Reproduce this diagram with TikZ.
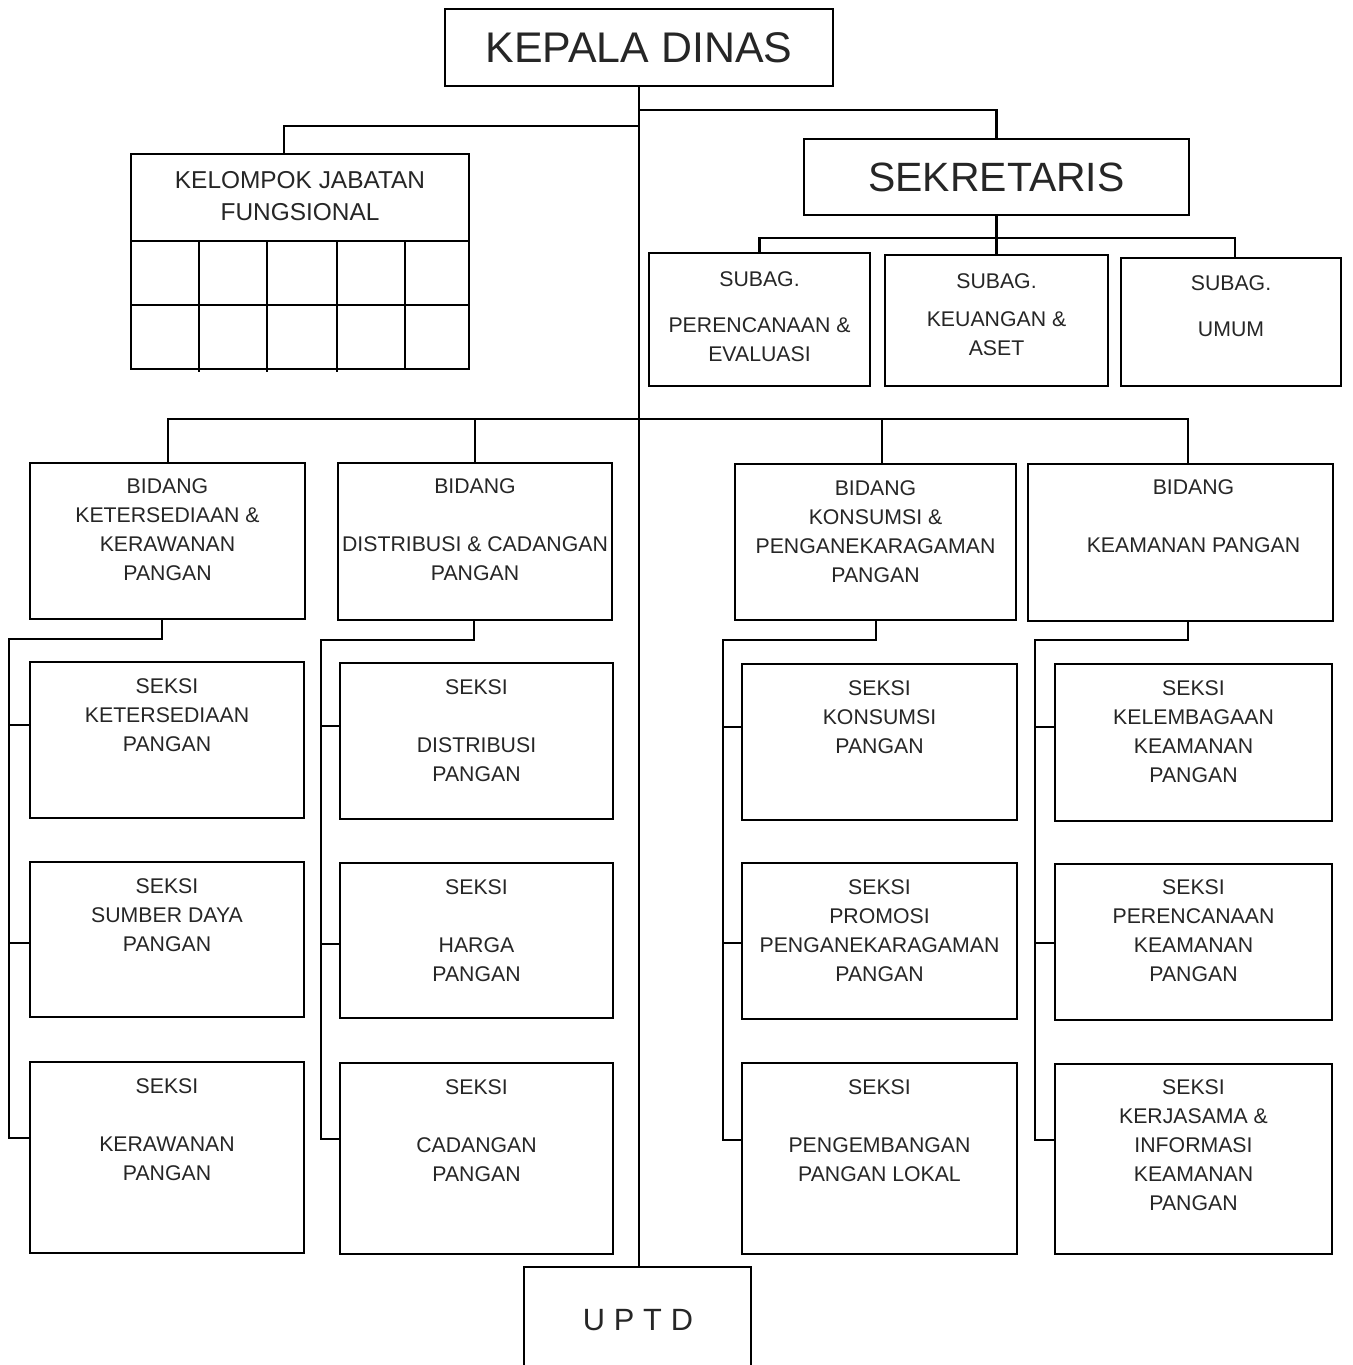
\documentclass[tikz,border=0pt]{standalone}
\usepackage{fontspec}
\setmainfont{Liberation Sans}
\usetikzlibrary{fit,calc}
\begin{document}
\begin{tikzpicture}[x=0.02cm,y=-0.02cm,line width=1.2pt,
  box/.style={draw=black,rectangle,inner sep=0pt,outer sep=0pt},
  txt/.style={inner sep=0pt,outer sep=0pt,align=center,anchor=north,text=black!85,font=\fontsize{12.1}{16.5}\selectfont},
  bigtxt/.style={text=black!85,font=\fontsize{24.4}{28}\selectfont},
  conn/.style={draw=black,line width=1.2pt}]
\clip (0,0) rectangle (1352,1365);
\fill[white] (0,0) rectangle (1352,1365);

% ---------- top ----------
\node[box,bigtxt,minimum width=7.76cm,minimum height=1.54cm] (kd) at (639,47.5) {KEPALA DINAS};
\node[box,bigtxt,font=\fontsize{23.3}{28}\selectfont,minimum width=7.7cm,minimum height=1.52cm] (sek) at (996.5,177) {SEKRETARIS};

% ---------- kelompok jabatan fungsional ----------
\node[box,fit={(131,154) (469,369)}] (kjf) {};
\node[txt,font=\fontsize{13.9}{18.2}\selectfont] (kjft) at ($(kjf.north)+(0,17.5)$) {KELOMPOK JABATAN\\FUNGSIONAL};
\draw (131,241) -- (469,241);
\draw (131,305) -- (469,305);
\foreach \gx in {199,267,337} {\draw (\gx,241) -- (\gx,372);}
\draw (405,241) -- (405,369);

% ---------- subag ----------
\node[box,fit={(649,253) (870,386)}] (sub1) {};
\node[box,fit={(885,255) (1108,386)}] (sub2) {};
\node[box,fit={(1121,258) (1341,386)}] (sub3) {};
\node[txt] (sub1t) at ($(sub1.north)+(0,18.5)$) {SUBAG.\\[9.7pt]PERENCANAAN \&\\EVALUASI};
\node[txt] (sub2t) at ($(sub2.north)+(0,18.5)$) {SUBAG.\\[5.1pt]KEUANGAN \&\\ASET};
\node[txt] (sub3t) at ($(sub3.north)+(0,17.5)$) {SUBAG.\\[9.7pt]UMUM};

% ---------- bidang ----------
\node[box,fit={(30,463) (305,619)}] (b1) {};
\node[box,fit={(338,463) (612,620)}] (b2) {};
\node[box,fit={(735,464) (1016,620)}] (b3) {};
\node[box,fit={(1028,464) (1333,621)}] (b4) {};
\node[txt] (b1t) at ($(b1.north)+(0,16)$) {BIDANG\\KETERSEDIAAN \&\\KERAWANAN\\PANGAN};
\node[txt] (b2t) at ($(b2.north)+(0,15.5)$) {BIDANG\\[16.5pt]DISTRIBUSI \& CADANGAN\\PANGAN};
\node[txt] (b3t) at ($(b3.north)+(0,16.5)$) {BIDANG\\KONSUMSI \&\\PENGANEKARAGAMAN\\PANGAN};
\node[txt] (b4t) at ($(b4.north)+(13,15.5)$) {BIDANG\\[16.5pt]KEAMANAN PANGAN};

% ---------- seksi ----------
\node[box,fit={(30,662) (304,818)}] (s11) {};
\node[box,fit={(30,862) (304,1017)}] (s12) {};
\node[box,fit={(30,1062) (304,1253)}] (s13) {};
\node[box,fit={(340,663) (613,819)}] (s21) {};
\node[box,fit={(340,863) (613,1018)}] (s22) {};
\node[box,fit={(340,1063) (613,1254)}] (s23) {};
\node[box,fit={(742,664) (1017,820)}] (s31) {};
\node[box,fit={(742,863) (1017,1019)}] (s32) {};
\node[box,fit={(742,1063) (1017,1254)}] (s33) {};
\node[box,fit={(1055,664) (1332,821)}] (s41) {};
\node[box,fit={(1055,864) (1332,1020)}] (s42) {};
\node[box,fit={(1055,1064) (1332,1254)}] (s43) {};

\node[txt] (s11t) at ($(s11.north)+(0,16.5)$) {SEKSI\\KETERSEDIAAN\\PANGAN};
\node[txt] (s12t) at ($(s12.north)+(0,16.5)$) {SEKSI\\SUMBER DAYA\\PANGAN};
\node[txt] (s13t) at ($(s13.north)+(0,16.5)$) {SEKSI\\[16.5pt]KERAWANAN\\PANGAN};
\node[txt] (s21t) at ($(s21.north)+(0,16.5)$) {SEKSI\\[16.5pt]DISTRIBUSI\\PANGAN};
\node[txt] (s22t) at ($(s22.north)+(0,16.5)$) {SEKSI\\[16.5pt]HARGA\\PANGAN};
\node[txt] (s23t) at ($(s23.north)+(0,16.5)$) {SEKSI\\[16.5pt]CADANGAN\\PANGAN};
\node[txt] (s31t) at ($(s31.north)+(0,16.5)$) {SEKSI\\KONSUMSI\\PANGAN};
\node[txt] (s32t) at ($(s32.north)+(0,16.5)$) {SEKSI\\PROMOSI\\PENGANEKARAGAMAN\\PANGAN};
\node[txt] (s33t) at ($(s33.north)+(0,16.5)$) {SEKSI\\[16.5pt]PENGEMBANGAN\\PANGAN LOKAL};
\node[txt] (s41t) at ($(s41.north)+(0,16.5)$) {SEKSI\\KELEMBAGAAN\\KEAMANAN\\PANGAN};
\node[txt] (s42t) at ($(s42.north)+(0,15.5)$) {SEKSI\\PERENCANAAN\\KEAMANAN\\PANGAN};
\node[txt] (s43t) at ($(s43.north)+(0,15.5)$) {SEKSI\\KERJASAMA \&\\INFORMASI\\KEAMANAN\\PANGAN};

% ---------- UPTD ----------
\node[box,fit={(524,1267) (751,1420)}] (uptd) {};
\node[txt,anchor=center,font=\fontsize{17.5}{20}\selectfont] (uptdt) at ($(uptd.north)+(0.5,53)$) {U\hspace{5pt}P\hspace{5pt}T\hspace{5pt}D};

% ---------- connectors ----------
\coordinate (jl) at (639,126);
\coordinate (jr) at (639,110);
\coordinate (jb) at (639,419);
\coordinate (sj) at (996.5,238);
\draw[conn] (kd.south) -- (kd.south |- uptd.north);
\draw[conn] (jl) -| ($(kjf.north)+(-16,0)$);
\draw[conn] (jr) -| (sek.north);
\draw[conn] (sek.south) -- (sub2.north);
\draw[conn] (sub1.north) |- (sj) -| ($(sub3.north)+(4,0)$);
\draw[conn] ($(b1.north)+(0.5,0)$) |- (jb) -| ($(b4.north)+(7.5,0)$);
\draw[conn] (b2.north) -- (b2.north |- jb);
\draw[conn] ($(b3.north)+(6.5,0)$) |- (jb);

\coordinate (v1) at (9,639);
\coordinate (v2) at (321,640);
\coordinate (v3) at (723,640);
\coordinate (v4) at (1035,640);
\draw[conn] ($(b1.south)+(-5.5,0)$) |- (v1) |- ($(s13.west)+(0,-19.5)$);
\draw[conn] ($(s11.west)+(0,-15)$) -| (v1);
\draw[conn] ($(s12.west)+(0,3.5)$) -| (v1);
\draw[conn] ($(b2.south)+(-1,0)$) |- (v2) |- ($(s23.west)+(0,-19.5)$);
\draw[conn] ($(s21.west)+(0,-15)$) -| (v2);
\draw[conn] ($(s22.west)+(0,3.5)$) -| (v2);
\draw[conn] ($(b3.south)+(0.5,0)$) |- (v3) |- ($(s33.west)+(0,-18.5)$);
\draw[conn] ($(s31.west)+(0,-15)$) -| (v3);
\draw[conn] ($(s32.west)+(0,2)$) -| (v3);
\draw[conn] ($(b4.south)+(7.5,0)$) |- (v4) |- ($(s43.west)+(0,-19)$);
\draw[conn] ($(s41.west)+(0,-15.5)$) -| (v4);
\draw[conn] ($(s42.west)+(0,1)$) -| (v4);
\end{tikzpicture}
\end{document}
